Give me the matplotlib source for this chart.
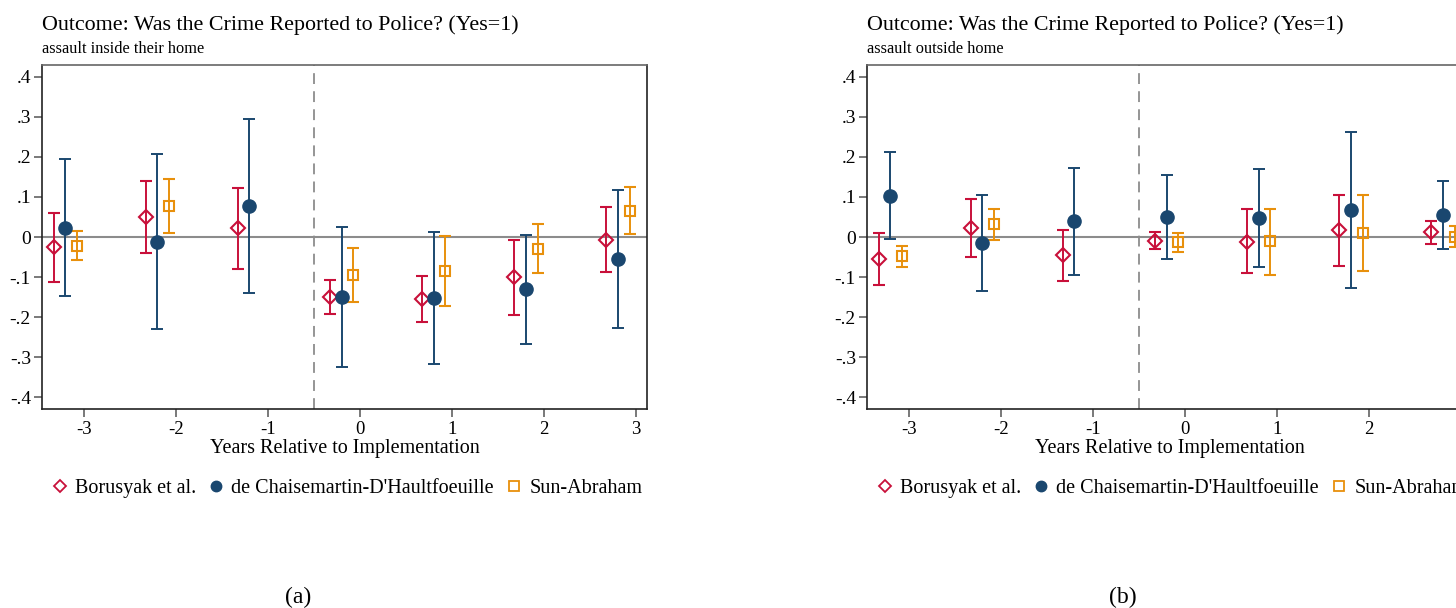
import numpy as np
import matplotlib.pyplot as plt
import matplotlib.ticker as mtick
from matplotlib.lines import Line2D

plt.rcParams['font.family'] = ['Liberation Serif', 'DejaVu Serif']
plt.rcParams['axes.unicode_minus'] = False

# event time
t_all = np.array([-3, -2, -1, 0, 1, 2, 3])
t_sun = np.array([-3, -2, 0, 1, 2, 3])

# (a) assault inside their home
a_bor = [-0.025, 0.050, 0.022, -0.150, -0.155, -0.100, -0.007]
a_bor_lo = [-0.112, -0.039, -0.079, -0.193, -0.212, -0.194, -0.088]
a_bor_hi = [0.059, 0.140, 0.123, -0.107, -0.098, -0.007, 0.074]
a_dc = [0.023, -0.012, 0.077, -0.149, -0.152, -0.130, -0.054]
a_dc_lo = [-0.147, -0.230, -0.139, -0.324, -0.318, -0.266, -0.226]
a_dc_hi = [0.194, 0.206, 0.295, 0.025, 0.012, 0.005, 0.118]
a_sun = [-0.022, 0.078, -0.094, -0.084, -0.029, 0.066]
a_sun_lo = [-0.057, 0.011, -0.161, -0.172, -0.091, 0.007]
a_sun_hi = [0.014, 0.145, -0.027, 0.002, 0.033, 0.124]

# (b) assault outside home
b_bor = [-0.056, 0.022, -0.046, -0.009, -0.012, 0.017, 0.012]
b_bor_lo = [-0.119, -0.050, -0.110, -0.031, -0.091, -0.072, -0.018]
b_bor_hi = [0.011, 0.094, 0.017, 0.012, 0.069, 0.106, 0.041]
b_dc = [0.103, -0.016, 0.040, 0.050, 0.047, 0.067, 0.055]
b_dc_lo = [-0.005, -0.134, -0.094, -0.056, -0.076, -0.128, -0.029]
b_dc_hi = [0.212, 0.104, 0.173, 0.154, 0.169, 0.261, 0.139]
b_sun = [-0.048, 0.033, -0.013, -0.011, 0.011, 0.001]
b_sun_lo = [-0.074, -0.007, -0.038, -0.094, -0.085, -0.024]
b_sun_hi = [-0.022, 0.071, 0.010, 0.071, 0.105, 0.027]

names = ['Borusyak et al.', "de Chaisemartin-D'Haultfoeuille", 'Sun-Abraham']
red, navy, orange = '#c8103a', '#1a476f', '#e8900c'

W, H = 1456, 608
fig = plt.figure(figsize=(W / 100, H / 100), dpi=100)


def yfmt(v, pos):
    if abs(v) < 1e-9:
        return '0'
    return '{:.1f}'.format(v).replace('0.', '.')


def ci(y, lo, hi):
    y, lo, hi = np.array(y), np.array(lo), np.array(hi)
    return [y - lo, hi - y]


def panel(left_px, sub, bor, bor_lo, bor_hi, dc, dc_lo, dc_hi, sun, sun_lo, sun_hi, cap):
    ax = fig.add_axes([left_px / W, 1 - 409 / H, 605 / W, 344 / H])
    ax.axhline(0, color='#8c8c8c', lw=1.5, zorder=1)
    ax.axvline(-0.5, color='#8c8c8c', lw=1.3, ls=(0, (6, 4)), zorder=1)

    kw = dict(capsize=4, elinewidth=1.4, capthick=1.4, ls='none', zorder=3)
    ax.errorbar(t_all - 0.33, bor, yerr=ci(bor, bor_lo, bor_hi), marker='D', ms=7.5,
                mfc='none', mec=red, mew=1.5, color=red, **kw)
    ax.errorbar(t_all - 0.2, dc, yerr=ci(dc, dc_lo, dc_hi), marker='o', ms=9.5,
                mfc=navy, mec=navy, color=navy, **kw)
    ax.errorbar(t_sun - 0.07, sun, yerr=ci(sun, sun_lo, sun_hi), marker='s', ms=7.5,
                mfc='none', mec=orange, mew=1.5, color=orange, **kw)

    ax.set_xlim(-3.455, 3.12)
    ax.set_ylim(-0.429, 0.429)
    ax.set_xticks(t_all)
    ax.set_yticks(np.arange(-0.4, 0.41, 0.1))
    ax.yaxis.set_major_formatter(mtick.FuncFormatter(yfmt))
    ax.tick_params(direction='out', length=6, width=1.1, color='#555555',
                   labelsize=14, pad=2)
    ax.tick_params(axis='x', pad=3, labelsize=13.5)
    for s in ax.spines.values():
        s.set_color('#222222')
        s.set_linewidth(1.2)
    ax.spines['top'].set_color('#666666')
    ax.set_xlabel('Years Relative to Implementation', fontsize=14.5, va='center')
    ax.xaxis.set_label_coords(0.5, -40 / 344)

    x0 = left_px / W
    fig.text(x0, 1 - 25 / H, 'Outcome: Was the Crime Reported to Police? (Yes=1)',
             fontsize=15.8, va='center', ha='left')
    fig.text(x0, 1 - 49 / H, sub, fontsize=11.8, va='center', ha='left')

    handles = [Line2D([], [], ls='none', marker='D', ms=6.5, mfc='none', mec=red, mew=1.3),
               Line2D([], [], ls='none', marker='o', ms=7.5, mfc=navy, mec=navy),
               Line2D([], [], ls='none', marker='s', ms=6.5, mfc='none', mec=orange, mew=1.3)]
    ax.legend(handles, names, ncol=3, frameon=False, fontsize=14.5,
              loc='center left', bbox_to_anchor=(0.016, -0.232),
              handlelength=0.8, handletextpad=0.35, columnspacing=0.6,
              borderaxespad=0, borderpad=0)
    fig.text((left_px + 256) / W, 1 - 597 / H, cap, fontsize=17, ha='center', va='center')
    return ax


panel(42, 'assault inside their home', a_bor, a_bor_lo, a_bor_hi,
      a_dc, a_dc_lo, a_dc_hi, a_sun, a_sun_lo, a_sun_hi, '(a)')
panel(867, 'assault outside home', b_bor, b_bor_lo, b_bor_hi,
      b_dc, b_dc_lo, b_dc_hi, b_sun, b_sun_lo, b_sun_hi, '(b)')

plt.savefig('out.png', dpi=100)
